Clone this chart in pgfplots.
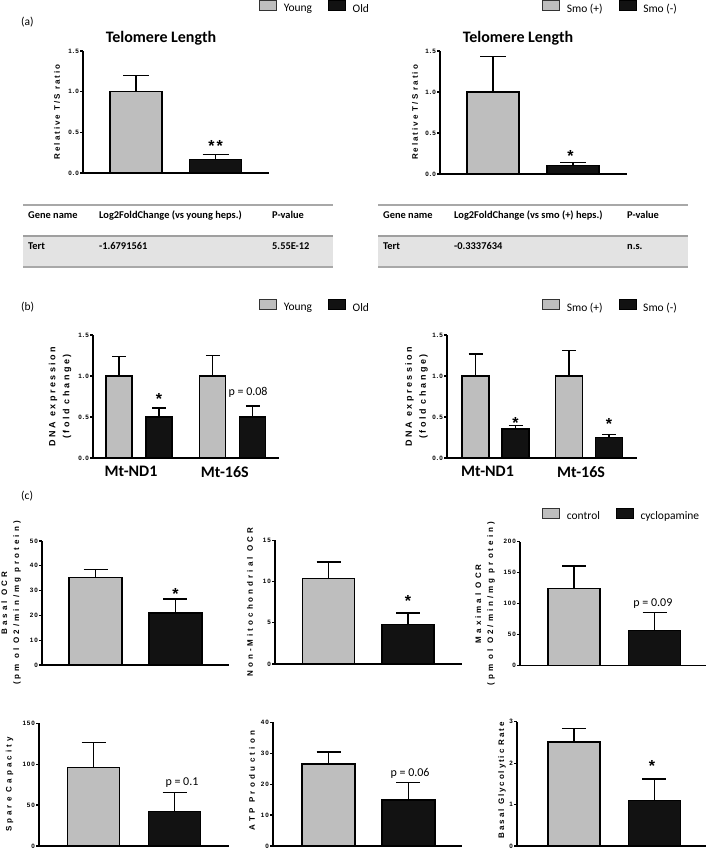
\documentclass[border=0pt]{standalone}
\usepackage{pgfplots}
\pgfplotsset{compat=1.18}
\usepackage{fontspec}
\setmainfont{Carlito}
\newfontfamily\tickfont{Liberation Sans}[LetterSpace=14]
\newfontfamily\labA{Liberation Sans}[LetterSpace=25]
\newfontfamily\labB{Liberation Sans}[LetterSpace=28]
\newfontfamily\labC{Liberation Sans}[LetterSpace=38]
\newfontfamily\labD{Liberation Sans}[LetterSpace=42]
\newfontfamily\labE{Liberation Sans}[LetterSpace=24]
\newfontfamily\starfamily{Liberation Sans}
\definecolor{bargray}{HTML}{BEBEBE}
\definecolor{barblack}{HTML}{121212}
\definecolor{tabfill}{HTML}{E3E3E3}
\definecolor{tabline}{HTML}{A8A8A8}

\pgfplotsset{
  prism/.style={
    scale only axis, anchor=south west, clip=false,
    axis x line=bottom, axis y line=left,
    axis line style={line width=1.3pt, -, black},
    x axis line style={-}, y axis line style={-},
    xtick=\empty, ymin=0,
    tick align=outside, major tick length=3pt,
    ytick style={line width=1.2pt, black},
    /pgf/number format/assume math mode=true,
    yticklabel style={font=\tickfont\bfseries\fontsize{6.3}{7}\selectfont, inner xsep=1pt},
    every axis y label/.style={rotate=90, anchor=center, align=center},
    legend cell align=left,
    legend style={draw=none, fill=none, inner sep=0pt, anchor=west, legend columns=2,
      font=\fontsize{11.5}{13}\selectfont,
      /tikz/every odd column/.append style={column sep=5pt},
      /tikz/every even column/.append style={column sep=14pt}},
  },
  onedec/.style={yticklabel style={/pgf/number format/fixed, /pgf/number format/fixed zerofill, /pgf/number format/precision=1}},
  gbar/.style 2 args={ybar, bar width=#1, bar shift=0pt, fill=bargray, draw=black, line width=1.3pt,
    legend image code/.code={\draw[fill=bargray, draw=black!80, line width=0.6pt] (0pt,-1.7pt) rectangle (17pt,8.3pt);},
    error bars/y dir=plus, error bars/y explicit,
    error bars/error bar style={line width=1.3pt, black},
    error bars/error mark options={rotate=90, line width=1.3pt, black, mark size=#2}},
  kbar/.style 2 args={ybar, bar width=#1, bar shift=0pt, fill=barblack, draw=black, line width=1.3pt,
    legend image code/.code={\draw[fill=barblack, draw=black, line width=0.6pt] (0pt,-1.7pt) rectangle (17pt,8.3pt);},
    error bars/y dir=plus, error bars/y explicit,
    error bars/error bar style={line width=1.3pt, black},
    error bars/error mark options={rotate=90, line width=1.3pt, black, mark size=#2}},
}
\tikzset{
  star/.style={font=\starfamily\bfseries\fontsize{16}{16}\selectfont, anchor=base, yshift=-9pt, inner sep=0pt},
  ptext/.style={font=\fontsize{12}{14}\selectfont, anchor=center, yshift=-1.2pt, inner sep=0pt},
  thead/.style={anchor=base west, font=\bfseries\fontsize{10.4}{12}\selectfont, inner sep=0pt},
}

\begin{document}
\begin{tikzpicture}[x=1pt,y=1pt]
\useasboundingbox (0,0) rectangle (709,850);

% ---------- panel labels and titles
\node[anchor=west, font=\fontsize{11.5}{13}\selectfont, inner sep=0pt] at (21,828) {(a)};
\node[anchor=west, font=\fontsize{11.5}{13}\selectfont, inner sep=0pt] at (21,543) {(b)};
\node[anchor=west, font=\fontsize{11.5}{13}\selectfont, inner sep=0pt] at (21,354) {(c)};
\node[anchor=base, font=\bfseries\fontsize{16}{18}\selectfont, inner sep=0pt] at (161,807.3) {Telomere Length};
\node[anchor=base, font=\bfseries\fontsize{16}{18}\selectfont, inner sep=0pt] at (518,807.3) {Telomere Length};

% ---------- tables
\fill[tabfill] (23,614) rectangle (333,583);
\draw[tabline, line width=1.3pt] (23,645) -- (333,645);
\draw[tabline!110, line width=2pt] (23,614) -- (333,614);
\draw[tabline, line width=1.7pt] (23,583) -- (333,583);
\node[thead] at (28,631.7) {Gene name};
\node[thead] at (99,631.7) {Log2FoldChange (vs young heps.)};
\node[thead] at (272,631.7) {P-value};
\node[thead] at (28,600.7) {Tert};
\node[thead] at (99,600.7) {-1.6791561};
\node[thead] at (272,600.7) {5.55E-12};

\fill[tabfill] (378,614) rectangle (688,583);
\draw[tabline, line width=1.3pt] (378,645) -- (688,645);
\draw[tabline!110, line width=2pt] (378,614) -- (688,614);
\draw[tabline, line width=1.7pt] (378,583) -- (688,583);
\node[thead] at (383,631.7) {Gene name};
\node[thead] at (454,631.7) {Log2FoldChange (vs smo (+) heps.)};
\node[thead] at (627,631.7) {P-value};
\node[thead] at (383,600.7) {Tert};
\node[thead] at (454,600.7) {-0.3337634};
\node[thead] at (627,600.7) {n.s.};

% ---------- (a) left
\begin{axis}[prism, onedec, at={(83pt,677pt)}, width=186pt, height=122pt,
  xmin=0.3333, xmax=2.673, ymax=1.5, ytick={0,0.5,1,1.5},
  ylabel={Relative T/S ratio},
  ylabel style={at={(axis description cs:-0.1398,0.5)}, font=\labA\bfseries\fontsize{8}{9}\selectfont},
  legend style={at={(0.9462,1.3525)}}]
\addplot[gbar={52pt}{13pt}] coordinates {(1,1.0) +- (0,0.2)};
\addlegendentry{Young}
\addplot[kbar={52pt}{13pt}] coordinates {(2,0.165) +- (0,0.06)};
\addlegendentry{Old}
\node[star] at (axis cs:2,0.369) {*\hspace{2pt}*};
\end{axis}

% ---------- (a) right
\begin{axis}[prism, onedec, at={(440pt,676pt)}, width=187pt, height=123pt,
  xmin=0.3375, xmax=2.675, ymax=1.5, ytick={0,0.5,1,1.5},
  ylabel={Relative T/S ratio},
  ylabel style={at={(axis description cs:-0.1337,0.5)}, font=\labA\bfseries\fontsize{8}{9}\selectfont},
  legend style={at={(0.5455,1.3496)}}]
\addplot[gbar={52pt}{13pt}] coordinates {(1,1.0) +- (0,0.43)};
\addlegendentry{Smo (+)}
\addplot[kbar={52pt}{13pt}] coordinates {(2,0.10) +- (0,0.04)};
\addlegendentry{Smo (-)}
\node[star] at (axis cs:1.97,0.256) {*};
\end{axis}

% ---------- (b) left  (groups at 1 and 2; bars 20px either side)
\begin{axis}[prism, onedec, at={(93pt,392pt)}, width=186pt, height=123pt,
  xmin=0.509, xmax=2.493, ymax=1.5, ytick={0,0.5,1,1.5},
  xtick={1,2}, xticklabels={Mt-ND1,Mt-16S}, xtick style={draw=none},
  xticklabel style={font=\bfseries\fontsize{16}{18}\selectfont, inner sep=0pt, anchor=north, xshift=-8pt, yshift=-5pt},
  ylabel={DNA expression\\(fold change)},
  ylabel style={at={(axis description cs:-0.1774,0.5)}, font=\labB\bfseries\fontsize{9}{14}\selectfont},
  legend style={at={(0.8925,1.2276)}}]
\addplot[gbar={26pt}{7pt}] coordinates {(0.7867,1.0) +- (0,0.235) (1.7867,1.0) +- (0,0.25)};
\addlegendentry{Young}
\addplot[kbar={26pt}{7pt}] coordinates {(1.2133,0.5) +- (0,0.11) (2.2133,0.5) +- (0,0.134)};
\addlegendentry{Old}
\node[star] at (axis cs:1.2133,0.76) {*};
\node[ptext] at (axis cs:2.163,0.82) {p = 0.08};
\end{axis}

% ---------- (b) right
\begin{axis}[prism, onedec, at={(447pt,392pt)}, width=190pt, height=123pt,
  xmin=0.481, xmax=2.513, ymax=1.5, ytick={0,0.5,1,1.5},
  xtick={1,2}, xticklabels={Mt-ND1,Mt-16S}, xtick style={draw=none},
  xticklabel style={font=\bfseries\fontsize{16}{18}\selectfont, inner sep=0pt, anchor=north, xshift=-8pt, yshift=-5pt},
  ylabel={DNA expression\\(fold change)},
  ylabel style={at={(axis description cs:-0.1605,0.5)}, font=\labB\bfseries\fontsize{9}{14}\selectfont},
  legend style={at={(0.5,1.2276)}}]
\addplot[gbar={27pt}{7pt}] coordinates {(0.7861,1.0) +- (0,0.27) (1.7861,1.0) +- (0,0.31)};
\addlegendentry{Smo (+)}
\addplot[kbar={27pt}{7pt}] coordinates {(1.2139,0.355) +- (0,0.045) (2.2139,0.25) +- (0,0.04)};
\addlegendentry{Smo (-)}
\node[star] at (axis cs:1.2139,0.465) {*};
\node[star] at (axis cs:2.2139,0.455) {*};
\end{axis}

% ---------- (c) Basal OCR
\begin{axis}[prism, at={(42pt,185pt)}, width=187pt, height=124pt,
  xmin=0.331, xmax=2.669, ymax=50, ytick={0,10,20,30,40,50},
  ylabel={Basal OCR\\(pm ol O2/min/mg protein)},
  ylabel style={at={(axis description cs:-0.1658,0.5)}, font=\labC\bfseries\fontsize{8}{12}\selectfont}]
\addplot[gbar={53pt}{12pt}] coordinates {(1,35.4) +- (0,3.2)};
\addplot[kbar={53pt}{12pt}] coordinates {(2,21.0) +- (0,5.6)};
\node[star] at (axis cs:2,30.1) {*};
\end{axis}

% ---------- (c) Non-Mitochondrial OCR
\begin{axis}[prism, at={(275pt,186pt)}, width=187pt, height=123.5pt,
  xmin=0.327, xmax=2.679, ymax=15, ytick={0,5,10,15},
  ylabel={Non-Mitochondrial OCR},
  ylabel style={at={(axis description cs:-0.1337,0.5)}, font=\labC\bfseries\fontsize{8}{12}\selectfont}]
\addplot[gbar={52pt}{12pt}] coordinates {(1,10.4) +- (0,2.0)};
\addplot[kbar={52pt}{12pt}] coordinates {(2,4.77) +- (0,1.43)};
\node[star] at (axis cs:2,8.05) {*};
\end{axis}

% ---------- (c) Maximal OCR
\begin{axis}[prism, at={(520pt,184.3pt)}, width=186pt, height=124pt,
  xmin=0.329, xmax=2.64, ymax=200, ytick={0,50,100,150,200},
  ylabel={Maximal OCR\\(pm ol O2/min/mg protein)},
  ylabel style={at={(axis description cs:-0.1882,0.5)}, font=\labC\bfseries\fontsize{8}{12}\selectfont},
  legend style={at={(0.1183,1.2113)}}]
\addplot[gbar={52pt}{12pt}] coordinates {(1,124) +- (0,37)};
\addlegendentry{control}
\addplot[kbar={52pt}{12pt}] coordinates {(2,57) +- (0,29)};
\addlegendentry{cyclopamine}
\node[ptext] at (axis cs:1.98,102.7) {p = 0.09};
\end{axis}

% ---------- (c) Spare Capacity
\begin{axis}[prism, at={(39pt,4pt)}, width=188pt, height=122.7pt,
  xmin=0.325, xmax=2.675, ymax=150, ytick={0,50,100,150},
  ylabel={Spare Capacity},
  ylabel style={at={(axis description cs:-0.1543,0.5)}, font=\labC\bfseries\fontsize{8}{12}\selectfont}]
\addplot[gbar={52pt}{12pt}] coordinates {(1,95.7) +- (0,31)};
\addplot[kbar={52pt}{12pt}] coordinates {(2,42) +- (0,23.6)};
\node[ptext] at (axis cs:2.09,78.6) {p = 0.1};
\end{axis}

% ---------- (c) ATP Production
\begin{axis}[prism, at={(273pt,4pt)}, width=189pt, height=123.7pt,
  xmin=0.306, xmax=2.669, ymax=40, ytick={0,10,20,30,40},
  ylabel={ATP Production},
  ylabel style={at={(axis description cs:-0.1111,0.53)}, font=\labD\bfseries\fontsize{8}{12}\selectfont}]
\addplot[gbar={53pt}{12pt}] coordinates {(1,26.5) +- (0,3.9)};
\addplot[kbar={53pt}{12pt}] coordinates {(2,14.9) +- (0,5.7)};
\node[ptext] at (axis cs:2.02,23.7) {p = 0.06};
\end{axis}

% ---------- (c) Basal Glycolytic Rate
\begin{axis}[prism, at={(517pt,4pt)}, width=189pt, height=124.3pt,
  xmin=0.292, xmax=2.64, ymax=3, ytick={0,1,2,3},
  ylabel={Basal Glycolytic Rate},
  ylabel style={at={(axis description cs:-0.0794,0.53)}, font=\labE\bfseries\fontsize{8}{12}\selectfont}]
\addplot[gbar={52pt}{12pt}] coordinates {(1,2.51) +- (0,0.32)};
\addplot[kbar={52pt}{12pt}] coordinates {(2,1.09) +- (0,0.53)};
\node[star] at (axis cs:1.97,2.01) {*};
\end{axis}

\end{tikzpicture}
\end{document}
